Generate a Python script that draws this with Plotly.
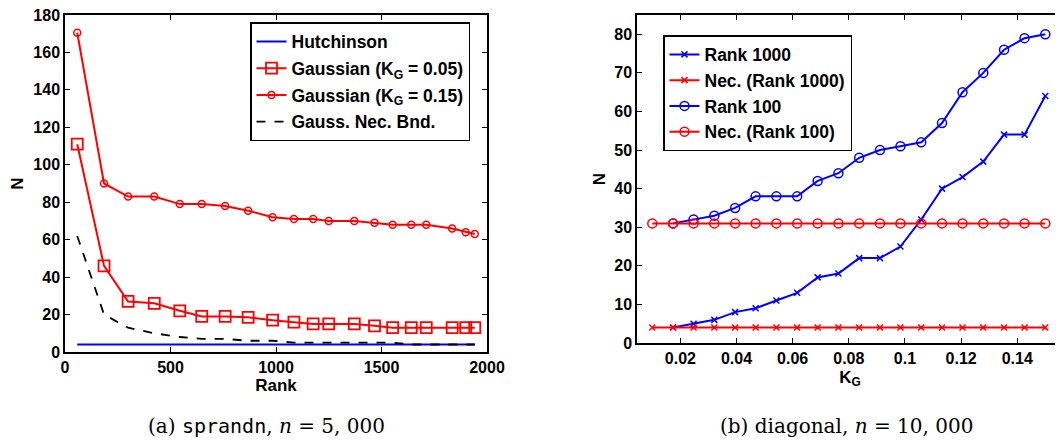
import plotly.graph_objs as go

# left panel: sprandn, n = 5000
rank = [58, 185, 299, 423, 544, 648, 759, 868, 984, 1085,
        1176, 1250, 1371, 1467, 1553, 1641, 1712, 1835, 1899, 1942]
hutch = [4] * 20
gauss_005 = [111, 46, 27, 26, 22, 19, 19, 18.5, 17, 16,
             15, 15, 15, 14, 13, 13, 13, 13, 13, 13]
gauss_015 = [170.5, 90, 83, 83, 79, 79, 78, 75.5, 72, 71,
             71, 70, 70, 69, 68, 68, 68, 66, 64, 63]
gauss_nec = [62, 20, 13, 10, 8, 7, 7, 6, 6, 5,
             5, 5, 5, 5, 5, 4, 4, 4, 4, 4]

# right panel: diagonal, n = 10000
kg = [0.0100, 0.0174, 0.0247, 0.0321, 0.0395, 0.0468, 0.0542, 0.0616, 0.0689, 0.0763,
      0.0837, 0.0911, 0.0984, 0.1058, 0.1132, 0.1205, 0.1279, 0.1353, 0.1426, 0.1500]
rank1000 = [4, 5, 6, 8, 9, 11, 13, 17, 18, 22, 22, 25, 32, 40, 43, 47, 54, 54, 64]
nec1000 = [4] * 20
rank100 = [31, 32, 33, 35, 38, 38, 38, 42, 44, 48, 50, 51, 52, 57, 65, 70, 76, 79, 80]
nec100 = [31] * 20
kg_ticks = [0.02, 0.04, 0.06, 0.08, 0.1, 0.12, 0.14]
kg_ticktext = ['0.02', '0.04', '0.06', '0.08', '0.1', '0.12', '0.14']

FONT = 'Liberation Sans'
RED = '#ff0000'
BLUE = '#0000ff'

# страница сдвинута на 8px (margin у body), поэтому фигура чуть меньше окна
W, H = 1055, 432
def px(x):
    return (x - 8) / W
def py(y):
    return 1 - (y - 8) / H

fig = go.Figure()

#левый график
fig.add_trace(go.Scatter(x=rank, y=hutch, mode='lines', name='Hutchinson',
                         line=dict(color=BLUE, width=2), legendgroup='a1'))
fig.add_trace(go.Scatter(x=rank, y=gauss_005, mode='lines+markers', name='Gaussian (K<sub>G</sub> = 0.05)',
                         line=dict(color=RED, width=2),
                         marker=dict(symbol='square-open', size=11, color=RED, line=dict(width=1.8)),
                         legendgroup='a2'))
fig.add_trace(go.Scatter(x=rank, y=gauss_015, mode='lines+markers', name='Gaussian (K<sub>G</sub> = 0.15)',
                         line=dict(color=RED, width=2),
                         marker=dict(symbol='circle-open', size=7, color=RED, line=dict(width=1.5)),
                         legendgroup='a3'))
fig.add_trace(go.Scatter(x=rank, y=gauss_nec, mode='lines', name='Gauss. Nec. Bnd.',
                         line=dict(color='black', width=1.8, dash='dash'), legendgroup='a4'))

#правый график
fig.add_trace(go.Scatter(x=kg[1:], y=rank1000, mode='lines+markers', name='Rank 1000',
                         line=dict(color=BLUE, width=2),
                         marker=dict(symbol='x-thin-open', size=6, color=BLUE, line=dict(width=1.5, color=BLUE)),
                         xaxis='x2', yaxis='y2', legend='legend2'))
fig.add_trace(go.Scatter(x=kg, y=nec1000, mode='lines+markers', name='Nec. (Rank 1000)',
                         line=dict(color=RED, width=2),
                         marker=dict(symbol='x-thin-open', size=6, color=RED, line=dict(width=1.5, color=RED)),
                         xaxis='x2', yaxis='y2', legend='legend2'))
fig.add_trace(go.Scatter(x=kg[1:], y=rank100, mode='lines+markers', name='Rank 100',
                         line=dict(color=BLUE, width=2),
                         marker=dict(symbol='circle-open', size=9, color=BLUE, line=dict(width=1.5)),
                         xaxis='x2', yaxis='y2', legend='legend2'))
fig.add_trace(go.Scatter(x=kg, y=nec100, mode='lines+markers', name='Nec. (Rank 100)',
                         line=dict(color=RED, width=2),
                         marker=dict(symbol='circle-open', size=9, color=RED, line=dict(width=1.5)),
                         xaxis='x2', yaxis='y2', legend='legend2'))

axis_common = dict(showgrid=False, zeroline=False, showline=True, linecolor='black', linewidth=1.5,
                   ticks='inside', ticklen=5, tickcolor='black', tickwidth=1.2, automargin=False,
                   ticklabeloverflow='allow',
                   tickfont=dict(family=FONT, size=16, color='black', weight='bold'))
title_font = dict(family=FONT, size=17, color='black', weight='bold')
legend_font = dict(family=FONT, size=17.5, color='black', weight='bold')

fig.update_layout(
    width=W, height=H, margin=dict(l=0, r=0, t=0, b=0),
    paper_bgcolor='white', plot_bgcolor='white',
    font=dict(family=FONT, size=16, color='black'),
    xaxis=dict(domain=[px(65), px(487)], range=[0, 2000], dtick=500, mirror='ticks',
               title=dict(text='Rank', font=title_font, standoff=3), **axis_common),
    yaxis=dict(domain=[py(352), py(15)], range=[0, 180], dtick=20, mirror='ticks',
               title=dict(text='N', font=title_font, standoff=7), **axis_common),
    xaxis2=dict(domain=[px(637), 1.0], range=[0.00455, 0.1563], anchor='y2', mirror='ticks',
                tickvals=kg_ticks, ticktext=kg_ticktext,
                title=dict(text='K<sub>G</sub>', font=title_font, standoff=5), **axis_common),
    yaxis2=dict(domain=[py(343), py(15)], range=[0, 85], dtick=10, anchor='x2', mirror=False,
                title=dict(text='N', font=title_font, standoff=4), **axis_common),
    legend=dict(x=px(250), y=py(22), xanchor='left', yanchor='top', bgcolor='white',
                bordercolor='black', borderwidth=1.5, tracegroupgap=1, traceorder='grouped',
                font=legend_font),
    legend2=dict(x=px(663), y=py(35), xanchor='left', yanchor='top', bgcolor='white',
                 bordercolor='black', borderwidth=1.5, font=legend_font),
    showlegend=True,
)

fig.add_annotation(text="(a) <span style='font-family:DejaVu Sans Mono'>sprandn</span>, <i>n</i> = 5, 000",
                   x=px(266), y=py(426), xref='paper', yref='paper', showarrow=False,
                   xanchor='center', yanchor='middle',
                   font=dict(family='DejaVu Serif', size=20, color='black'))
fig.add_annotation(text='(b) diagonal, <i>n</i> = 10, 000',
                   x=px(846), y=py(426), xref='paper', yref='paper', showarrow=False,
                   xanchor='center', yanchor='middle',
                   font=dict(family='DejaVu Serif', size=20, color='black'))

fig.write_html('out.html')
